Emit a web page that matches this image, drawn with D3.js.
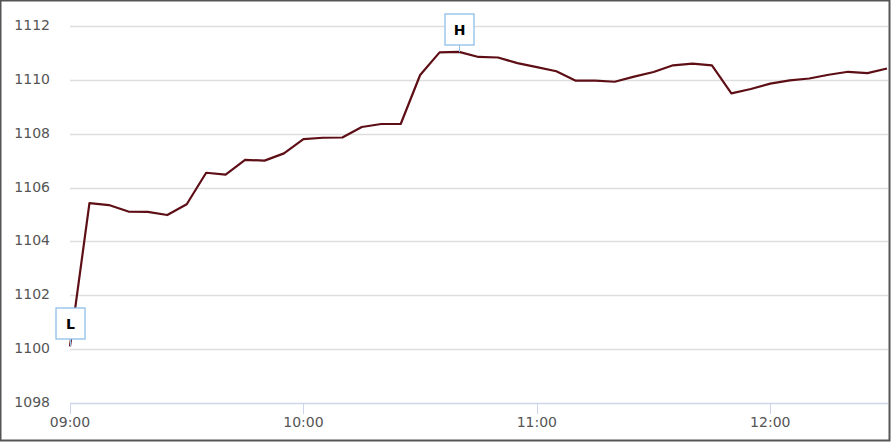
<!DOCTYPE html>
<html>
<head>
<meta charset="utf-8">
<script src="https://cdn.jsdelivr.net/npm/d3@7"></script>
<style>
  html, body { margin: 0; padding: 0; background: #fff; }
  svg { display: block; font-family: "DejaVu Sans", sans-serif; }
</style>
</head>
<body>
<svg id="chart" width="891" height="442"></svg>
<script>
// ---- data ----
const times = ["09:00","09:05","09:10","09:15","09:20","09:25","09:30","09:35","09:40","09:45",
  "09:50","09:55","10:00","10:05","10:10","10:15","10:20","10:25","10:30","10:35",
  "10:40","10:45","10:50","10:55","11:00","11:05","11:10","11:15","11:20","11:25",
  "11:30","11:35","11:40","11:45","11:50","11:55","12:00","12:05","12:10","12:15",
  "12:20","12:25","12:30"];
const prices = [1100.1,1105.42,1105.35,1105.11,1105.10,1104.98,1105.38,1106.55,1106.48,1107.03,
  1107.0,1107.27,1107.8,1107.85,1107.86,1108.25,1108.36,1108.36,1110.18,1111.02,
  1111.04,1110.85,1110.83,1110.62,1110.47,1110.32,1109.97,1109.97,1109.93,1110.12,
  1110.29,1110.54,1110.6,1110.54,1109.5,1109.66,1109.86,1109.98,1110.05,1110.19,
  1110.3,1110.25,1110.42];
const yTicks = [1098,1100,1102,1104,1106,1108,1110,1112];
const xTickLabels = ["09:00","10:00","11:00","12:00"];
const flagTimes = ["10:40","09:00"];
const flagTitles = ["H","L"];

(function () {
const parse = d3.timeParse("%H:%M");
const data = times.map((t, i) => ({ t: parse(t), v: prices[i] }));

const svg = d3.select("#chart");
const pL = 70, pR = 887, pT = 26, pB = 403;

const x = d3.scaleTime()
  .domain([parse("09:00"), parse("12:30")])
  .range([pL, pR]);
const y = d3.scaleLinear()
  .domain([1098, 1112])
  .range([pB, pT]);

// gridlines
svg.append("g").selectAll("line")
  .data(yTicks.filter(d => d !== 1098))
  .join("line")
  .attr("x1", pL).attr("x2", 888)
  .attr("y1", d => Math.round(y(d)) + 0.5).attr("y2", d => Math.round(y(d)) + 0.5)
  .attr("stroke", "#dedede").attr("stroke-width", 1.3);

// y labels
svg.append("g").selectAll("text")
  .data(yTicks)
  .join("text")
  .attr("x", 50)
  .attr("y", d => y(d) + 4)
  .attr("text-anchor", "end")
  .attr("font-size", 14)
  .attr("fill", "#555")
  .text(d => d);

// x axis line
svg.append("line")
  .attr("x1", pL).attr("x2", 888)
  .attr("y1", pB + 0.5).attr("y2", pB + 0.5)
  .attr("stroke", "#ccd6eb").attr("stroke-width", 1.3);

// x ticks & labels
const xAxis = svg.append("g");
xAxis.selectAll("line")
  .data(xTickLabels)
  .join("line")
  .attr("x1", d => Math.round(x(parse(d))) + 0.5)
  .attr("x2", d => Math.round(x(parse(d))) + 0.5)
  .attr("y1", pB).attr("y2", pB + 11)
  .attr("stroke", "#ccd6eb").attr("stroke-width", 1);
xAxis.selectAll("text")
  .data(xTickLabels)
  .join("text")
  .attr("x", d => x(parse(d)))
  .attr("y", 427)
  .attr("text-anchor", "middle")
  .attr("font-size", 14)
  .attr("fill", "#555")
  .text(d => d);

// price line
svg.append("path")
  .datum(data)
  .attr("fill", "none")
  .attr("stroke", "#5e0f16")
  .attr("stroke-width", 2.2)
  .attr("stroke-linejoin", "round")
  .attr("d", d3.line().x(d => x(d.t)).y(d => y(d.v)));

// flags
const fmt = d3.timeFormat("%H:%M");
const flags = flagTimes.map((t, i) => {
  const p = data.find(d => fmt(d.t) === t);
  return { t: p.t, v: p.v, title: flagTitles[i] };
});
const fw = 29, fh = 31, gap = 7;
const fg = svg.append("g").selectAll("g")
  .data(flags)
  .join("g")
  .attr("transform", d => `translate(${Math.round(x(d.t)) + 0.5},${Math.round(y(d.v))})`);
fg.append("line")
  .attr("x1", 0).attr("x2", 0)
  .attr("y1", 0).attr("y2", -gap)
  .attr("stroke", "#8fbfea").attr("stroke-width", 1);
fg.append("rect")
  .attr("x", -fw / 2).attr("y", -gap - fh)
  .attr("width", fw).attr("height", fh)
  .attr("fill", "#fff")
  .attr("stroke", "#8fbfea").attr("stroke-width", 1.3);
fg.append("text")
  .attr("x", 0).attr("y", -gap - fh / 2 + 5)
  .attr("text-anchor", "middle")
  .attr("font-size", 14)
  .attr("font-weight", "bold")
  .attr("fill", "#000")
  .text(d => d.title);

// outer border
svg.append("rect")
  .attr("x", 0.5).attr("y", 0.5)
  .attr("width", 889).attr("height", 440)
  .attr("fill", "none")
  .attr("stroke", "#555").attr("stroke-width", 2);
})();
</script>
</body>
</html>
